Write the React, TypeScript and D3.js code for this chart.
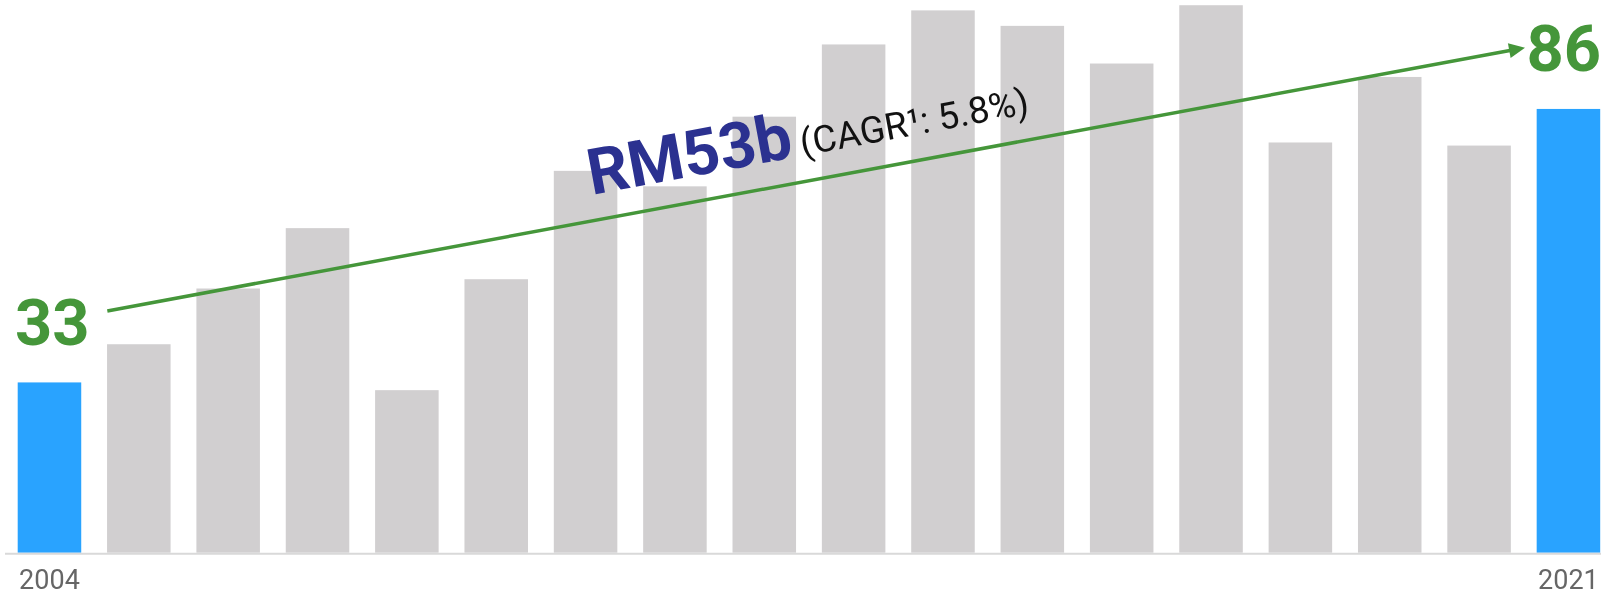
import React from "react";
import * as d3 from "d3";

const years = [2004, 2005, 2006, 2007, 2008, 2009, 2010, 2011, 2012, 2013, 2014, 2015, 2016, 2017, 2018, 2019, 2020, 2021];
const values = [33, 40.4, 51.2, 62.9, 31.5, 53.0, 74.0, 71.0, 84.5, 98.5, 105.1, 102.1, 94.8, 106.1, 79.5, 92.2, 78.9, 86];
const highlighted = [2004, 2021];
const startLabel = "33";
const endLabel = "86";
const mainLabel = "RM53b";
const subLabel = "(CAGR¹: 5.8%)";
const tickLabels = ["2004", "2021"];

const W = 1601;
const H = 597;
const BASE = 552.7;

export default function App() {
  const x = d3.scaleBand<number>().domain(years).range([17.7, 1600.2]).paddingInner(0.289).paddingOuter(0);
  const y = d3.scaleLinear().domain([0, 107]).range([BASE, BASE - 107 * 5.16]);
  const green = "#45963a";
  const blue = "#29a3ff";
  const gray = "#d1cfd0";

  const x0 = 107.3, y0 = 311;
  const x1 = 1525, y1 = 47.7;
  const ang = (Math.atan2(y1 - y0, x1 - x0) * 180) / Math.PI;
  const headLen = 16;
  const headHalf = 7.5;
  const dx = Math.cos((ang * Math.PI) / 180), dy = Math.sin((ang * Math.PI) / 180);
  const bx = x1 - dx * headLen, by = y1 - dy * headLen;
  const head = `M${x1},${y1} L${bx - dy * headHalf},${by + dx * headHalf} L${bx + dy * headHalf},${by - dx * headHalf} Z`;

  return (
    <div style={{ position: "fixed", left: 0, top: 0 }}>
      <svg width={W} height={H} style={{ display: "block", fontFamily: "Roboto, sans-serif" }}>
        {years.map((yr, i) => (
          <rect
            key={yr}
            x={x(yr)}
            y={y(values[i])}
            width={x.bandwidth()}
            height={BASE - y(values[i])}
            fill={highlighted.includes(yr) ? blue : gray}
          />
        ))}
        <line x1={5} x2={W} y1={BASE + 1} y2={BASE + 1} stroke="#d9d9d9" strokeWidth={2} />
        <text x={x(2004)! + x.bandwidth() / 2} y={589} textAnchor="middle" fontSize={27} fill="#666">
          {tickLabels[0]}
        </text>
        <text x={x(2021)! + x.bandwidth() / 2} y={589} textAnchor="middle" fontSize={27} fill="#666">
          {tickLabels[1]}
        </text>
        <text x={15} y={345} fontSize={65} fontWeight={700} fill={green}>
          {startLabel}
        </text>
        <text x={1601} y={70.5} textAnchor="end" fontSize={65} fontWeight={700} fill={green}>
          {endLabel}
        </text>
        <line x1={x0} y1={y0} x2={bx + dx * 2} y2={by + dy * 2} stroke={green} strokeWidth={3.5} />
        <path d={head} fill={green} />
        <text transform={`translate(591.7,195) rotate(${ang})`}>
          <tspan fontSize={64} fontWeight={700} fill="#2b3190">{mainLabel}</tspan>
          <tspan dx={8} fontSize={37} fill="#111">{subLabel}</tspan>
        </text>
      </svg>
    </div>
  );
}
